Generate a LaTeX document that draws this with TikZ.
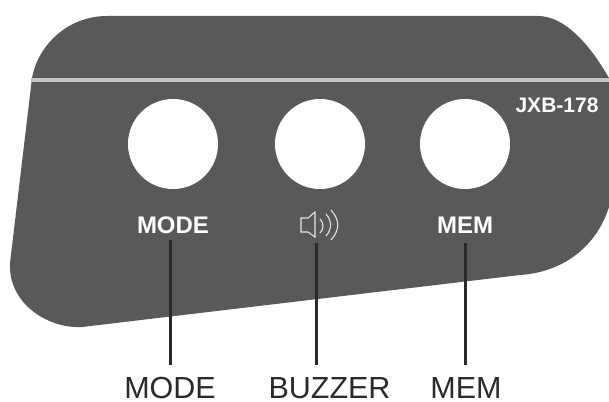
\documentclass[tikz,border=0pt]{standalone}
\usepackage{fontspec}
\setmainfont{Liberation Sans}
\definecolor{paneltone}{HTML}{58595B}
\definecolor{striptone}{HTML}{C4C5C5}
\definecolor{leadtone}{HTML}{2A2A2C}
\definecolor{marktone}{HTML}{E4E4E4}
\tikzset{
    keycap/.style = {circle, fill = white, minimum size = 90pt, inner sep = 0pt},
    keytext/.style = {text = white, font = \bfseries\fontsize{24}{24}\selectfont, inner sep = 0pt},
    calltext/.style = {text = leadtone, font = \fontsize{30.5}{30.5}\selectfont, inner sep = 0pt, text depth = 0pt},
    lead/.style = {draw = leadtone, line width = 3pt},
    speaker/.style = {draw = marktone, line width = 1.1pt}
}

\begin{document}
\begin{tikzpicture}[x = 1pt, y = -1pt]
    \useasboundingbox (0, 0) rectangle (609, 401);

    % panel
    \fill[paneltone] (107, 16) -- (538, 16) .. controls (565, 16) and (590, 45) .. (609, 78)
        -- (609, 207) .. controls (597, 245) and (565, 272) .. (520, 275)
        -- (82, 327) .. controls (50, 329) and (8, 305) .. (10, 263)
        -- (32, 78) .. controls (38, 45) and (68, 16) .. (107, 16) -- cycle;
    \draw[striptone, line width = 4pt] (31, 80.5) -- (609, 80.5);

    % keys
    \node[keycap] (modekey) at (173, 144){};
    \node[keycap] (buzzkey) at (320, 144){};
    \node[keycap] (memkey) at (465, 144){};

    \node[keytext] (modetext) at (173, 225){MODE};
    \node[keytext] (memtext) at (465, 225){MEM};
    \node[keytext, font = \bfseries\fontsize{21}{21}\selectfont] (modeltext) at (557, 105){JXB-178};

    % speaker mark
    \draw[speaker] (301, 218) -- (308, 218) -- (315, 212) -- (315, 237) -- (308, 232) -- (301, 232) -- cycle;
    \draw[speaker] (320, 219) .. controls (324, 223) and (324, 229) .. (320, 233);
    \draw[speaker] (326, 214) .. controls (332, 221) and (332, 229) .. (326, 236);
    \draw[speaker] (331, 210) .. controls (340, 220) and (340, 230) .. (331, 240);

    % callouts
    \node[calltext] (modecall) at (170, 388){MODE};
    \node[calltext] (buzzcall) at (329.5, 388){BUZZER};
    \node[calltext] (memcall) at (466, 388){MEM};

    \coordinate (modetop) at (170, 240);
    \coordinate (buzztop) at (316.5, 243);
    \coordinate (memtop) at (465, 243);
    \coordinate (modefoot) at (170, 365);
    \coordinate (buzzfoot) at (316.5, 365);
    \coordinate (memfoot) at (465, 365);
    \draw[lead] (modetop) -- (modefoot);
    \draw[lead] (buzztop) -- (buzzfoot);
    \draw[lead] (memtop) -- (memfoot);
\end{tikzpicture}
\end{document}
